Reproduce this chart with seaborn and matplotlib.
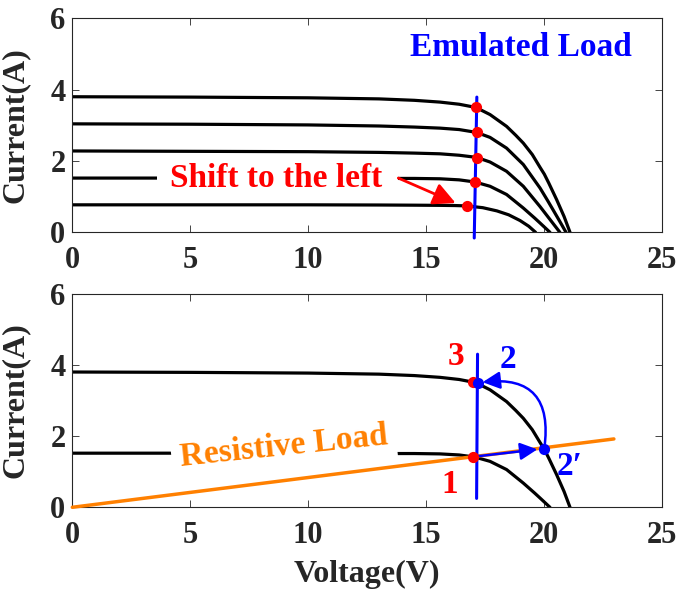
import matplotlib
matplotlib.use("Agg")
import matplotlib.pyplot as plt
import numpy as np
import pandas as pd
import seaborn as sns
from matplotlib.patches import FancyArrowPatch, Rectangle

# ---- I-V curves of the PV source at five irradiance levels ----
v_c1 = [0, 5, 10, 13, 14.5, 15.59, 16.4, 17.11, 17.71, 18.41, 18.8, 19.12, 19.5, 19.83, 20.01, 20.2, 20.53, 20.85, 21.10]
i_c1 = [3.80, 3.79, 3.77, 3.74, 3.70, 3.65, 3.59, 3.50, 3.30, 2.97, 2.72, 2.50, 2.18, 1.82, 1.63, 1.38, 0.92, 0.44, 0.0]

v_c2 = [0, 5, 10, 13, 14.5, 15.59, 16.4, 17.14, 17.71, 18.41, 19.12, 19.83, 20.15, 20.39, 20.68, 20.93]
i_c2 = [3.04, 3.03, 3.01, 2.98, 2.95, 2.92, 2.88, 2.80, 2.66, 2.36, 1.90, 1.24, 0.89, 0.62, 0.29, 0.0]

v_c3 = [0, 5, 10, 13, 14.5, 15.59, 16.4, 17.14, 17.71, 18.41, 19.12, 19.83, 20.25, 20.67]
i_c3 = [2.28, 2.27, 2.26, 2.24, 2.22, 2.20, 2.16, 2.10, 1.97, 1.71, 1.29, 0.72, 0.36, 0.0]

v_c4 = [0, 5, 10, 13, 14.5, 15.59, 16.4, 17.07, 17.71, 18.41, 19.12, 19.6, 19.83, 20.25]
i_c4 = [1.52, 1.52, 1.51, 1.51, 1.51, 1.50, 1.47, 1.41, 1.29, 1.06, 0.68, 0.40, 0.26, 0.0]

v_c5 = [0, 5, 10, 13, 14.5, 15.59, 16.2, 16.72, 17.4, 18.0, 18.5, 18.98, 19.35, 19.64]
i_c5 = [0.77, 0.77, 0.77, 0.765, 0.76, 0.755, 0.75, 0.74, 0.69, 0.60, 0.49, 0.33, 0.17, 0.0]

# operating points with the emulated load
op_v = [17.12, 17.14, 17.15, 17.08, 16.72]
op_i = [3.50, 2.80, 2.09, 1.42, 0.74]

# emulated-load line (top / bottom panel)
emu_top_v = [17.15, 17.04]
emu_top_i = [3.79, -0.16]
emu_bot_v = [17.18, 17.14]
emu_bot_i = [4.30, 0.25]

# resistive load line
res_v = [0, 22.96]
res_i = [0, 1.92]

# transition points in the bottom panel
pt1 = (17.0, 1.42)   # red, start
pt3 = (17.0, 3.51)   # red, end
pt2 = (17.22, 3.50)  # blue
pt2p = (20.01, 1.65) # blue

x_ticks = [0, 5, 10, 15, 20, 25]
y_ticks = [0, 2, 4, 6]

sns.set_theme(style="ticks")
plt.rcParams["font.family"] = ["Liberation Serif", "DejaVu Serif"]
plt.rcParams["font.weight"] = "bold"

INK = "#262626"
RED = "#FF0000"
BLUE = "#0000FF"
ORANGE = "#FF8000"


def curves_frame(pairs):
    rows = []
    for k, (v, i) in enumerate(pairs):
        rows.append(pd.DataFrame({"V": v, "I": i, "curve": k}))
    return pd.concat(rows, ignore_index=True)


fig = plt.figure(figsize=(6.81, 5.99), dpi=100)
ax1 = fig.add_axes([0.1062, 0.6122, 0.8659, 0.3573])
ax2 = fig.add_axes([0.1062, 0.1531, 0.8659, 0.3566])


def style_axes(ax):
    ax.set_xlim(0, 25)
    ax.set_ylim(0, 6)
    ax.set_xticks(x_ticks)
    ax.set_yticks(y_ticks)
    ax.tick_params(direction="in", length=5, width=0.6, colors=INK,
                   top=True, right=True, labelsize=22)
    ax.tick_params(axis="x", pad=10)
    ax.tick_params(axis="y", pad=5)
    for lab in ax.get_xticklabels() + ax.get_yticklabels():
        lab.set_fontweight("bold")
    for s in ax.spines.values():
        s.set_linewidth(0.8)
        s.set_color(INK)
    ax.set_ylabel("Current(A)", fontsize=23, fontweight="bold", color=INK)
    ax.yaxis.set_label_coords(-0.073, 0.5)
    ax.set_xlabel("")


# ---- top panel ----
df_top = curves_frame([(v_c1, i_c1), (v_c2, i_c2), (v_c3, i_c3), (v_c4, i_c4), (v_c5, i_c5)])
sns.lineplot(data=df_top, x="V", y="I", units="curve", estimator=None, sort=False,
             color="black", lw=2.3, ax=ax1, zorder=2)
ax1.plot(emu_top_v, emu_top_i, color=BLUE, lw=2.2, zorder=5, clip_on=False)
sns.scatterplot(x=op_v, y=op_i, color=RED, s=65, linewidth=0, ax=ax1, zorder=6)
ax1.add_patch(Rectangle((3.59, 1.28), 13.81 - 3.59, 0.5, facecolor="white",
                        edgecolor="none", zorder=3))
ax1.text(8.65, 1.50, "Shift to the left", color=RED, fontsize=24, fontweight="bold",
         ha="center", va="center", zorder=4)
ax1.add_patch(FancyArrowPatch((13.82, 1.52), (16.25, 0.82),
                              arrowstyle="-|>,head_length=0.9,head_width=0.45",
                              mutation_scale=15, color=RED, lw=2.0, zorder=5,
                              shrinkA=0, shrinkB=0))
ax1.text(19.02, 5.19, "Emulated Load", color=BLUE, fontsize=24, fontweight="bold",
         ha="center", va="center", zorder=4)
style_axes(ax1)

# ---- bottom panel ----
df_bot = curves_frame([(v_c1, i_c1), (v_c4, i_c4)])
sns.lineplot(data=df_bot, x="V", y="I", units="curve", estimator=None, sort=False,
             color="black", lw=2.3, ax=ax2, zorder=2)
ax2.plot(res_v, res_i, color=ORANGE, lw=2.5, zorder=5, clip_on=False)
ax2.plot(emu_bot_v, emu_bot_i, color=BLUE, lw=2.2, zorder=5)
ax2.text(8.96, 1.70, "Resistive Load", color=ORANGE, fontsize=24, fontweight="bold",
         ha="center", va="center", rotation=6, zorder=4,
         bbox=dict(boxstyle="square,pad=0.25", facecolor="white", edgecolor="none"))

ax2.add_patch(FancyArrowPatch(pt1, pt2p,
                              arrowstyle="-|>,head_length=0.8,head_width=0.4",
                              mutation_scale=13, color=BLUE, lw=1.8, zorder=6,
                              shrinkA=0, shrinkB=5))
ax2.add_patch(FancyArrowPatch(pt2p, pt2, connectionstyle="arc3,rad=0.66",
                              arrowstyle="-|>,head_length=0.8,head_width=0.4",
                              mutation_scale=13, color=BLUE, lw=1.8, zorder=6,
                              shrinkA=0, shrinkB=3))
sns.scatterplot(x=[pt1[0], pt3[0]], y=[pt1[1], pt3[1]], color=RED, s=65,
                linewidth=0, ax=ax2, zorder=7)
sns.scatterplot(x=[pt2[0], pt2p[0]], y=[pt2[1], pt2p[1]], color=BLUE, s=65,
                linewidth=0, ax=ax2, zorder=8)

ax2.text(16.27, 4.23, "3", color=RED, fontsize=24, fontweight="bold", ha="center", va="center")
ax2.text(18.48, 4.14, "2", color=BLUE, fontsize=24, fontweight="bold", ha="center", va="center")
ax2.text(16.01, 0.63, "1", color=RED, fontsize=24, fontweight="bold", ha="center", va="center")
ax2.text(21.1, 1.14, "2\u2032", color=BLUE, fontsize=24, fontweight="bold", ha="center", va="center")
style_axes(ax2)
ax2.set_xlabel("Voltage(V)", fontsize=23, fontweight="bold", color=INK)
ax2.xaxis.set_label_coords(0.5, -0.245)

fig.savefig("out.png", dpi=100)
